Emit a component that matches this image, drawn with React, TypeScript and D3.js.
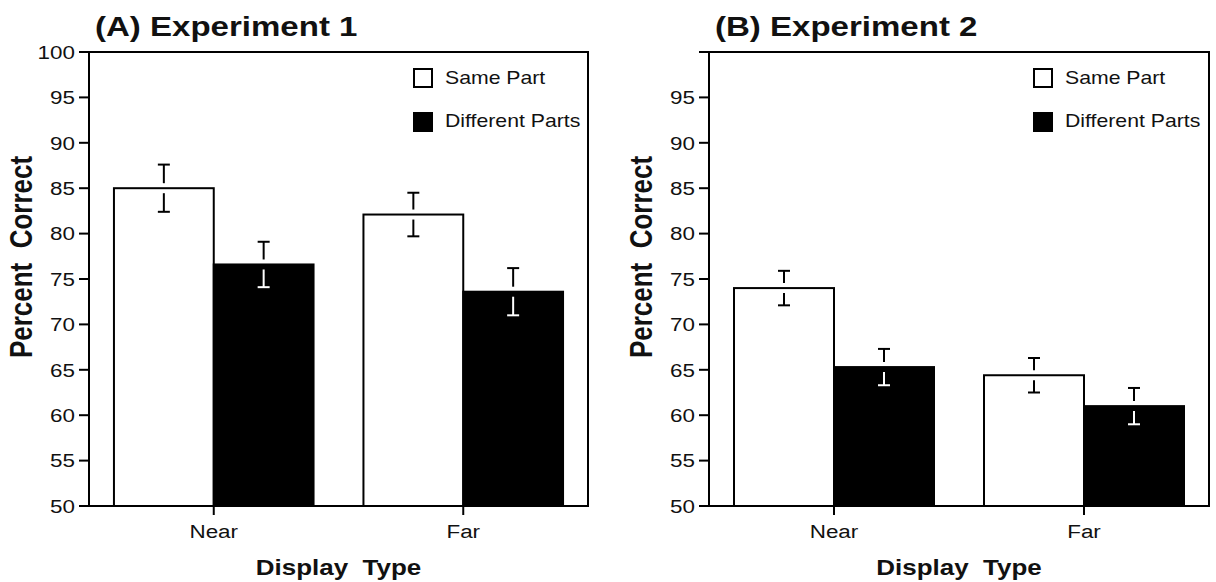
import React from "react";
import * as d3 from "d3";

const displayTypes = ["Near", "Far"];
const conditions = ["Same Part", "Different Parts"];

// Experiment 1 (percent correct, with error bars)
const exp1Same = [85.0, 82.1];
const exp1Diff = [76.6, 73.6];
const exp1SameErr = [2.6, 2.4];
const exp1DiffErr = [2.5, 2.6];

// Experiment 2
const exp2Same = [74.0, 64.4];
const exp2Diff = [65.3, 61.0];
const exp2SameErr = [1.9, 1.9];
const exp2DiffErr = [2.0, 2.0];

const yTicksA = [50, 55, 60, 65, 70, 75, 80, 85, 90, 95, 100];
const yTicksB = [50, 55, 60, 65, 70, 75, 80, 85, 90, 95];

const FONT = "'Liberation Sans', Arial, Helvetica, sans-serif";
const SX = 1.18; // scan is a bit wider than tall, so text is stretched
const TOP = 52;
const BOTTOM = 506;
const TICK = 10;
const GAP = 5;
const CAP = 6;

function Txt(props: any) {
  const { x, y, size, bold, anchor, rotate, children } = props;
  const tr = rotate
    ? `translate(${x},${y}) scale(${SX},1) rotate(-90)`
    : `translate(${x},${y}) scale(${SX},1)`;
  return (
    <text
      transform={tr}
      fontFamily={FONT}
      fontSize={size}
      fontWeight={bold ? "bold" : "normal"}
      textAnchor={anchor || "start"}
      fill="#111"
      style={{ whiteSpace: "pre" }}
    >
      {children}
    </text>
  );
}

function Panel(props: any) {
  const { x0, x1, title, same, diff, sameErr, diffErr, ticks } = props;

  const y = d3.scaleLinear().domain([50, 100]).range([BOTTOM, TOP]);
  const x = d3.scaleBand().domain(displayTypes).range([x0, x1])
    .paddingInner(0.2).paddingOuter(0.1);
  const xc = d3.scaleBand().domain(conditions).range([0, x.bandwidth()]);

  const series = [
    { key: conditions[0], vals: same, errs: sameErr, fill: "#fff" },
    { key: conditions[1], vals: diff, errs: diffErr, fill: "#000" },
  ];

  const midX = (x0 + x1) / 2;

  return (
    <g>
      <Txt x={x0 + 6} y={36} size={28} bold>{title}</Txt>

      {/* bars */}
      {series.map(s =>
        displayTypes.map((d, i) => (
          <rect
            key={s.key + d}
            x={x(d)! + xc(s.key)!}
            y={y(s.vals[i])}
            width={xc.bandwidth()}
            height={BOTTOM - y(s.vals[i])}
            fill={s.fill}
            stroke="#000"
            strokeWidth={2}
          />
        ))
      )}

      {/* error bars */}
      {series.map(s =>
        displayTypes.map((d, i) => {
          const cx = x(d)! + xc(s.key)! + xc.bandwidth() / 2;
          const v = s.vals[i], e = s.errs[i];
          const low = s.fill === "#000" ? "#fff" : "#000";
          return (
            <g key={"e" + s.key + d} strokeWidth={2}>
              <line x1={cx} x2={cx} y1={y(v + e)} y2={y(v) - GAP} stroke="#000" />
              <line x1={cx - CAP} x2={cx + CAP} y1={y(v + e)} y2={y(v + e)} stroke="#000" />
              <line x1={cx} x2={cx} y1={y(v) + GAP} y2={y(v - e)} stroke={low} />
              <line x1={cx - CAP} x2={cx + CAP} y1={y(v - e)} y2={y(v - e)} stroke={low} />
            </g>
          );
        })
      )}

      {/* frame */}
      <rect x={x0} y={TOP} width={x1 - x0} height={BOTTOM - TOP}
        fill="none" stroke="#000" strokeWidth={2} />
      <line x1={x0 - TICK} x2={x0} y1={TOP} y2={TOP} stroke="#000" strokeWidth={2} />

      {/* y axis */}
      {ticks.map((t: number) => (
        <g key={"y" + t}>
          <line x1={x0 - TICK} x2={x0} y1={y(t)} y2={y(t)} stroke="#000" strokeWidth={2} />
          <Txt x={x0 - 14} y={y(t) + 6.8} size={19} anchor="end">{String(t)}</Txt>
        </g>
      ))}

      {/* x axis */}
      {displayTypes.map(d => {
        const cx = x(d)! + x.bandwidth() / 2;
        return (
          <g key={"x" + d}>
            <line x1={cx} x2={cx} y1={BOTTOM} y2={BOTTOM + 9} stroke="#000" strokeWidth={2} />
            <Txt x={cx} y={538} size={19} anchor="middle">{d}</Txt>
          </g>
        );
      })}

      <Txt x={midX} y={575} size={22} bold anchor="middle">{"Display  Type"}</Txt>
      <Txt x={x0 - 57} y={257} size={26} bold anchor="middle" rotate>{"Percent  Correct"}</Txt>

      {/* legend */}
      {series.map((s, i) => (
        <g key={"l" + s.key}>
          <rect x={x0 + 325} y={69 + i * 44} width={18} height={18}
            fill={s.fill} stroke="#000" strokeWidth={2} />
          <Txt x={x0 + 356} y={84 + i * 43} size={18}>{s.key}</Txt>
        </g>
      ))}
    </g>
  );
}

export default function App() {
  return (
    <svg width={1216} height={582}
      style={{ position: "absolute", left: 0, top: 0, background: "#fff" }}>
      <rect width={1216} height={582} fill="#fff" />
      <Panel x0={89} x1={588} title="(A) Experiment 1"
        same={exp1Same} diff={exp1Diff} sameErr={exp1SameErr} diffErr={exp1DiffErr}
        ticks={yTicksA} />
      <Panel x0={709} x1={1209} title="(B) Experiment 2"
        same={exp2Same} diff={exp2Diff} sameErr={exp2SameErr} diffErr={exp2DiffErr}
        ticks={yTicksB} />
    </svg>
  );
}
